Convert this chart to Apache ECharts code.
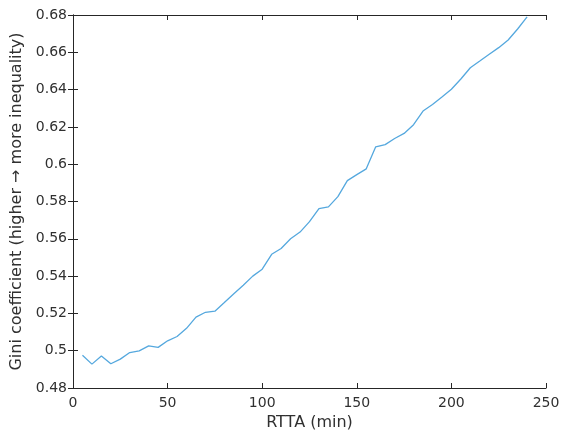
<!DOCTYPE html>
<html>
<head>
<meta charset="utf-8">
<script src="https://cdn.jsdelivr.net/npm/echarts@6/dist/echarts.min.js"></script>
<style>html,body{margin:0;padding:0;background:#fff}#c{width:563px;height:436px}</style>
</head>
<body>
<div id="c"></div>
<script>
const rtta = [5,10,15,20,25,30,35,40,45,50,55,60,65,70,75,80,85,90,95,100,105,110,115,120,125,130,135,140,145,150,155,160,165,170,175,180,185,190,195,200,205,210,215,220,225,230,235,240];
const gini = [0.4976,0.4928,0.4972,0.4930,0.4955,0.4990,0.4999,0.5026,0.5018,0.5053,0.5076,0.5120,0.5180,0.5206,0.5212,0.5258,0.5305,0.5351,0.5400,0.5437,0.5517,0.5548,0.5600,0.5636,0.5692,0.5762,0.5771,0.5826,0.5912,0.5944,0.5975,0.6093,0.6105,0.6138,0.6165,0.6212,0.6285,0.6320,0.6360,0.6402,0.6457,0.6517,0.6553,0.6590,0.6625,0.6666,0.6725,0.6790];
const xLabel = 'RTTA (min)';
const yLabel = 'Gini coefficient (higher \u2192 more inequality)';

const txt = '#303030';
const font = 'DejaVu Sans';
const chart = echarts.init(document.getElementById('c'), null, {renderer:'canvas'});
const axisLine = {show:true, lineStyle:{color:'#262626', width:1}};
const ticks = {show:true, inside:true, length:5, lineStyle:{color:'#262626', width:1}};
chart.setOption({
  animation:false,
  backgroundColor:'#fff',
  grid:{left:73, right:17, top:15, bottom:47, containLabel:false},
  xAxis:[{
    type:'value', min:0, max:250, interval:50, position:'bottom',
    name:xLabel, nameLocation:'middle', nameGap:27,
    nameTextStyle:{color:txt, fontSize:16, fontFamily:font},
    axisLine:axisLine, axisTick:ticks, splitLine:{show:false},
    axisLabel:{color:txt, fontSize:14, fontFamily:font, margin:8}
  },{
    type:'value', min:0, max:250, interval:50, position:'top',
    axisLine:axisLine, axisTick:ticks, splitLine:{show:false}, axisLabel:{show:false}
  }],
  yAxis:[{
    type:'value', min:0.48, max:0.68, interval:0.02, position:'left',
    name:yLabel, nameLocation:'middle', nameGap:43,
    nameTextStyle:{color:txt, fontSize:16, fontFamily:font},
    axisLine:axisLine, axisTick:ticks, splitLine:{show:false},
    axisLabel:{color:txt, fontSize:14, fontFamily:font, margin:6,
      formatter:v=>String(Number(v.toFixed(2)))}
  },{
    type:'value', min:0.48, max:0.68, interval:0.02, position:'right',
    axisLine:axisLine, axisTick:ticks, splitLine:{show:false}, axisLabel:{show:false}
  }],
  series:[{
    type:'line', data:rtta.map((t,i)=>[t,gini[i]]),
    showSymbol:false, symbol:'none', clip:true,
    lineStyle:{color:'#55a8de', width:1.3}
  }]
});
</script>
</body>
</html>
